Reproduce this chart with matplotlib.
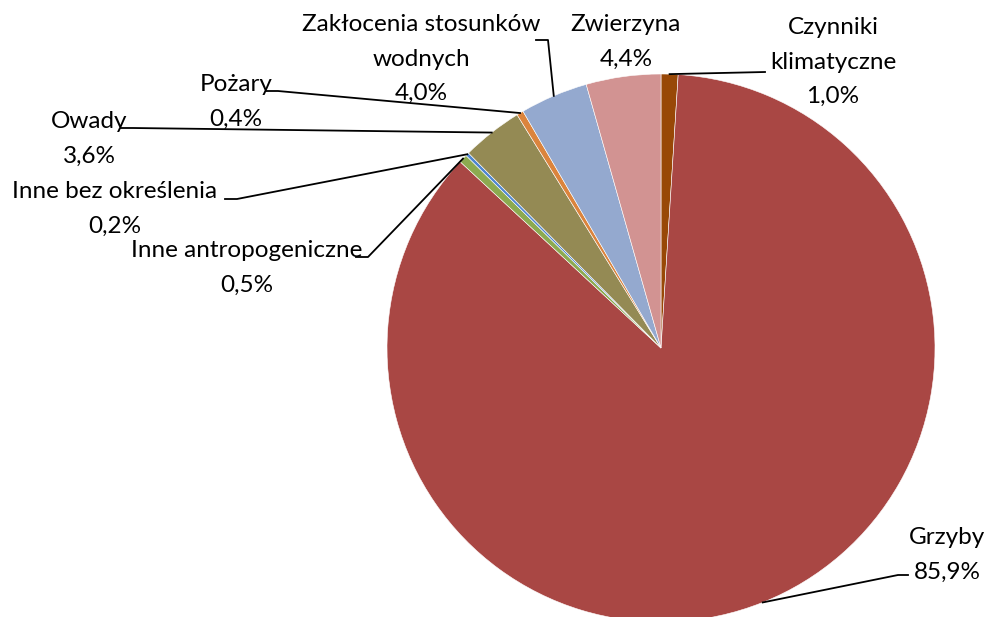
import numpy as np
import matplotlib
matplotlib.use("Agg")
import matplotlib.pyplot as plt

plt.rcParams['font.family'] = ['Lato', 'DejaVu Sans']

# dane
labels = ['Czynniki\nklimatyczne', 'Grzyby', 'Inne antropogeniczne',
          'Inne bez określenia', 'Owady', 'Pożary',
          'Zakłocenia stosunków\nwodnych', 'Zwierzyna']
values = [1.0, 85.9, 0.5, 0.2, 3.6, 0.4, 4.0, 4.4]
colors = ['#984807', '#A94744', '#8CAA50', '#4F86D0',
          '#948A54', '#DB843D', '#94A9CF', '#D29392']

# polozenie etykiet (px, srodek tekstu) i punkt zalamania linii
label_pos = [(833, 62), (947, 555), (247, 268), (115, 209),
             (89, 139), (236, 102), (421, 59), (626, 42)]
elbow = [(765, 72), (898, 575), (368, 257), (237, 199),
         (133, 128), (278, 91), (548, 40), None]

W, H = 987, 617
cx, cy, R = 661, 348, 274

fig = plt.figure(figsize=(W / 100, H / 100), dpi=100)
ax = fig.add_axes([0, 0, 1, 1])

wedges, _ = ax.pie(values, colors=colors, startangle=90, counterclock=False,
                   center=(cx, -cy), radius=R,
                   wedgeprops=dict(linewidth=0.4, edgecolor='white'))
ax.set_xlim(0, W)
ax.set_ylim(-H, 0)
ax.set_aspect('equal')
ax.axis('off')

for i, w in enumerate(wedges):
    mid = np.radians((w.theta1 + w.theta2) / 2)
    px = cx + R * np.cos(mid)
    py = -cy + R * np.sin(mid)
    txt = labels[i] + '\n' + ('%.1f%%' % values[i]).replace('.', ',')
    lx, ly = label_pos[i]
    ax.text(lx, -ly, txt, ha='center', va='center', fontsize=17.5,
            linespacing=1.8, color='black')
    if elbow[i] is not None:
        ex, ey = elbow[i]
        # krotki poziomy odcinek przy etykiecie
        if ex > cx:
            hx = ex + 10 if i == 1 else ex
            ax.plot([px, ex, hx], [py, -ey, -ey], color='black', lw=1.3)
        else:
            ax.plot([px, ex, ex - 12], [py, -ey, -ey], color='black', lw=1.3)

fig.savefig('out.png', dpi=100)
